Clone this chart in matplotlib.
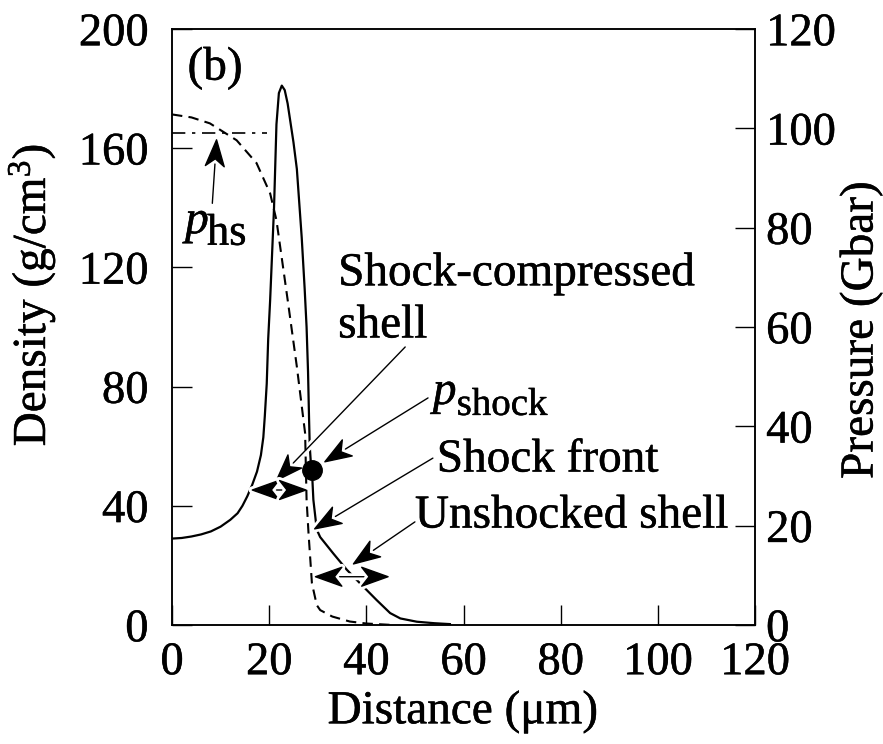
import matplotlib
matplotlib.use("Agg")
import matplotlib.pyplot as plt
import matplotlib.patheffects as pe
from matplotlib.patches import ArrowStyle
from matplotlib.path import Path

plt.rcParams["font.family"] = ["Liberation Serif", "DejaVu Serif"]
plt.rcParams["mathtext.fontset"] = "custom"
plt.rcParams["mathtext.rm"] = "Liberation Serif"
plt.rcParams["mathtext.it"] = "Liberation Serif:italic"

# Mass density profile (g/cm^3) vs radial distance (um)
dens_x = [0.0, 2.0, 4.0, 6.0, 8.0, 10.0, 12.0, 13.5, 14.5, 15.5, 16.5, 17.5,
          18.3, 18.8, 19.1, 19.5, 19.8, 20.2, 21.0, 21.5, 22.0, 22.6, 23.2,
          23.8, 25.0, 25.7, 26.7, 27.3, 27.7, 28.0, 28.2, 28.35, 28.6, 28.8,
          29.1, 29.8, 30.5, 33.2, 36.0, 38.7, 42.1, 44.9, 47.0, 50.4, 54.0,
          57.2]
dens_y = [29.0, 29.2, 29.7, 30.4, 31.4, 33.0, 35.3, 37.5, 40.0, 43.2, 47.0,
          51.5, 57.0, 63.0, 70.0, 81.0, 96.0, 109.0, 140.0, 168.0, 178.5,
          181.0, 179.5, 175.0, 162.0, 153.0, 130.0, 113.0, 100.0, 85.0, 70.0,
          60.0, 54.0, 52.0, 42.0, 32.0, 29.5, 24.0, 18.5, 14.0, 8.4, 4.0, 2.2,
          1.1, 0.6, 0.3]

# Pressure profile (Gbar)
pres_x = [0.0, 4.0, 7.8, 13.3, 17.4, 20.2, 21.5, 23.9, 25.7, 27.4, 27.7, 28.1,
          28.8, 29.8, 30.5, 33.0, 36.6, 40.0, 45.5]
pres_y = [102.8, 102.2, 101.0, 97.6, 93.0, 86.9, 81.5, 64.8, 52.0, 38.6, 25.2,
          18.5, 8.4, 4.0, 3.0, 1.7, 0.7, 0.3, 0.0]

# Hot-spot pressure level and shock pressure
p_hs = 99.0
p_hs_x = [0.0, 19.5]
p_shock_x = 28.8
p_shock = 31.2

x_ticks = [0, 20, 40, 60, 80, 100, 120]
dens_ticks = [0, 40, 80, 120, 160, 200]
pres_ticks = [0, 20, 40, 60, 80, 100, 120]


class _Notched:
    """Filled arrow head with a swept-back (notched) base."""

    def _get_arrow_wedge(self, x0, y0, x1, y1, head_dist, cos_t, sin_t,
                         linewidth):
        verts, codes, ddx, ddy = super()._get_arrow_wedge(
            x0, y0, x1, y1, head_dist, cos_t, sin_t, linewidth)
        (ax_, ay_), (tx, ty), (bx, by) = verts[0], verts[1], verts[2]
        mx, my = (ax_ + bx) / 2, (ay_ + by) / 2
        nx, ny = tx + 0.72 * (mx - tx), ty + 0.72 * (my - ty)
        verts = [(ax_, ay_), (tx, ty), (bx, by), (nx, ny), (ax_, ay_)]
        codes = [Path.MOVETO, Path.LINETO, Path.LINETO, Path.LINETO,
                 Path.CLOSEPOLY]
        return verts, codes, ddx, ddy


class NotchedB(_Notched, ArrowStyle.CurveFilledB):
    pass


class NotchedAB(_Notched, ArrowStyle.CurveFilledAB):
    pass


W, H = 883, 744
fig = plt.figure(figsize=(W / 100, H / 100), dpi=100)
ax = fig.add_axes([172 / W, 1 - 625 / H, (755 - 172) / W, (625 - 29) / H])
ax2 = ax.twinx()

ax.plot(dens_x, dens_y, color="k", lw=1.6, solid_joinstyle="round", zorder=3)
ax2.plot(pres_x, pres_y, color="k", lw=1.5, linestyle=(0, (5, 3)), zorder=3)
ax2.plot(p_hs_x, [p_hs, p_hs], color="k", lw=1.2, linestyle=(0, (8, 4, 2, 4)))
ax2.plot([p_shock_x], [p_shock], "o", color="k", ms=14, zorder=5)

ax.set_xlim(0, 120)
ax.set_ylim(0, 200)
ax2.set_ylim(0, 120)
ax.set_xticks(x_ticks)
ax.set_yticks(dens_ticks)
ax2.set_yticks(pres_ticks)

ink = [pe.withStroke(linewidth=0.35, foreground="k")]

tick_fs = 33.5
for a in (ax, ax2):
    for s in a.spines.values():
        s.set_linewidth(1.1)
ax.tick_params(axis="both", direction="in", length=14.5, width=1.0,
               labelsize=tick_fs, top=False, right=False)
ax.tick_params(axis="y", pad=17)
ax.tick_params(axis="x", pad=12)
ax2.tick_params(axis="y", direction="in", length=14.5, width=1.0,
                labelsize=tick_fs, pad=8)
for lab in ax.get_xticklabels() + ax.get_yticklabels() + ax2.get_yticklabels():
    lab.set_path_effects(ink)

fs = 34
fig.text(463 / W, 1 - 712 / H, "Distance (\u03bcm)", fontsize=fs,
         ha="center", va="center", path_effects=ink)
fig.text(32 / W, 1 - 295 / H, "Density (g/cm$^3$)", fontsize=fs,
         ha="center", va="center", rotation=90, path_effects=ink)
fig.text(861 / W, 1 - 330 / H, "Pressure (Gbar)", fontsize=fs,
         ha="center", va="center", rotation=90, path_effects=ink)

ax.text(3.2, 183, "(b)", fontsize=fs, ha="left", va="baseline",
        path_effects=ink)

halo = [pe.withStroke(linewidth=5, foreground="white")]


def arrow(tip, tail, both=False):
    style = (NotchedAB if both else NotchedB)(head_length=0.95,
                                               head_width=0.34)
    ann = ax.annotate(
        "", xy=tip, xytext=tail,
        arrowprops=dict(arrowstyle=style, color="k", lw=1.0, shrinkA=0,
                        shrinkB=0, mutation_scale=20),
        zorder=6)
    ann.arrow_patch.set_path_effects(halo)
    ann.arrow_patch.set_zorder(6)
    return ann


def label(x, y, s, size=fs, **kw):
    return ax.text(x, y, s, fontsize=size, ha="left", va="baseline",
                   path_effects=ink, **kw)


def sym(x, y, base, sub, sub_x, sub_y, sub_fs):
    label(x, y, base, style="italic")
    label(sub_x, sub_y, sub, size=sub_fs)


# hot-spot pressure
sym(2.7, 131.5, "p", "hs", 7.2, 127.6, 32)
arrow((9.2, 163.5), (8.3, 141.5))

label(34.2, 114, "Shock-compressed")
label(34.2, 96.5, "shell")
arrow((21.2, 48.0), (48.0, 93.3))

sym(53.7, 74.2, "p", "shock", 58.6, 70.5, 28)
arrow((31.1, 54.4), (52.7, 76.2))

label(54.5, 51.5, "Shock front")
arrow((29.0, 31.9), (53.7, 56.0))

label(50.0, 32.7, "Unshocked shell")
arrow((37.0, 20.1), (50.0, 34.6))

# widths of the compressed and unshocked shell regions
arrow((28.0, 45.3), (16.1, 45.3), both=True)
arrow((44.9, 16.2), (29.1, 16.2), both=True)

fig.savefig("out.png", dpi=100)
